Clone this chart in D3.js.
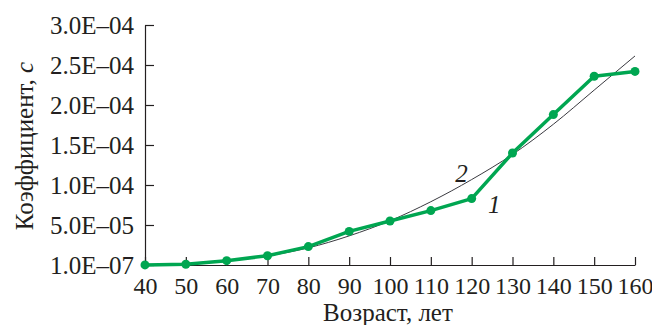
<!DOCTYPE html>
<html>
<head>
<meta charset="utf-8">
<script src="https://cdn.jsdelivr.net/npm/d3@7"></script>
<style>
    body { margin: 0; background: #fff; }
    svg text { font-family: "Liberation Serif", serif; fill: #231f20; }
</style>
</head>
<body>
<div id="wrapper"></div>
<script>
// ages (x) and the two curves
const ages = [40, 50, 60, 70, 80, 90, 100, 110, 120, 130, 140, 150, 160]
const coefData = [0.0000001, 0.0000010, 0.0000054, 0.0000116, 0.0000230, 0.0000420, 0.0000550, 0.0000680, 0.0000830, 0.0001400, 0.0001880, 0.0002360, 0.0002420]
const coefTrend = [0.0000000, 0.0000013, 0.0000050, 0.0000113, 0.0000214, 0.0000364, 0.0000553, 0.0000791, 0.0001068, 0.0001382, 0.0001759, 0.0002186, 0.0002613]
const yTicks = [0, 0.00005, 0.0001, 0.00015, 0.0002, 0.00025, 0.0003]
const yTickLabels = ["1.0E\u201307", "5.0E\u201305", "1.0E\u201304", "1.5E\u201304", "2.0E\u201304", "2.5E\u201304", "3.0E\u201304"]

const width = 652, height = 325
const margin = {top: 25, right: 17, bottom: 60, left: 145}

const svg = d3.select("#wrapper")
    .append("svg")
    .attr("width", width)
    .attr("height", height)

const x = d3.scaleLinear()
    .domain([40, 160])
    .range([margin.left, width - margin.right])
const y = d3.scaleLinear()
    .domain([0, 0.0003])
    .range([height - margin.bottom, margin.top])

// axes, ticks point inward
const xAxis = svg.append("g")
    .attr("transform", `translate(0, ${y(0)})`)
    .call(d3.axisBottom(x).tickValues(ages).tickSize(-8).tickSizeOuter(0).tickPadding(12))
xAxis.selectAll("text").style("font-size", "24px")

const yAxis = svg.append("g")
    .attr("transform", `translate(${x(40)}, 0)`)
    .call(d3.axisLeft(y).tickValues(yTicks).tickSize(-9).tickSizeOuter(0).tickPadding(11)
        .tickFormat((d, i) => yTickLabels[i]))
yAxis.selectAll("text").style("font-size", "25px").attr("dy", "0.35em")

svg.selectAll(".domain, .tick line").attr("stroke", "#231f20").attr("stroke-width", 1.2)
svg.selectAll("g").attr("font-family", null)

// axis titles
svg.append("text")
    .attr("x", (x(40) + x(160)) / 2 - 2)
    .attr("y", 321)
    .attr("text-anchor", "middle")
    .style("font-size", "25px")
    .text("Возраст, лет")

const ytitle = svg.append("text")
    .attr("transform", `translate(33, ${146}) rotate(-90)`)
    .attr("text-anchor", "middle")
    .style("font-size", "25px")
ytitle.append("tspan").text("Коэффициент, ")
ytitle.append("tspan").style("font-style", "italic").text("c")

// trend curve (2)
const trend = ages.map((a, i) => ({age: a, v: coefTrend[i]}))
svg.append("path")
    .datum(trend)
    .attr("fill", "none")
    .attr("stroke", "#3a3a40")
    .attr("stroke-width", 1)
    .attr("d", d3.line().x(d => x(d.age)).y(d => y(d.v)).curve(d3.curveMonotoneX))

// data (1)
const data = ages.map((a, i) => ({age: a, v: coefData[i]}))
svg.append("path")
    .datum(data)
    .attr("fill", "none")
    .attr("stroke", "#00a651")
    .attr("stroke-width", 3.5)
    .attr("stroke-linejoin", "round")
    .attr("d", d3.line().x(d => x(d.age)).y(d => y(d.v)))

svg.selectAll("circle")
    .data(data)
    .enter()
    .append("circle")
        .attr("cx", d => x(d.age))
        .attr("cy", d => y(d.v))
        .attr("r", 4.5)
        .attr("fill", "#00a651")

// curve labels
svg.append("text")
    .attr("x", x(117.5))
    .attr("y", 182)
    .attr("text-anchor", "middle")
    .style("font-size", "25px")
    .style("font-style", "italic")
    .text("2")
svg.append("text")
    .attr("x", x(125.5))
    .attr("y", 213)
    .attr("text-anchor", "middle")
    .style("font-size", "25px")
    .style("font-style", "italic")
    .text("1")
</script>
</body>
</html>
